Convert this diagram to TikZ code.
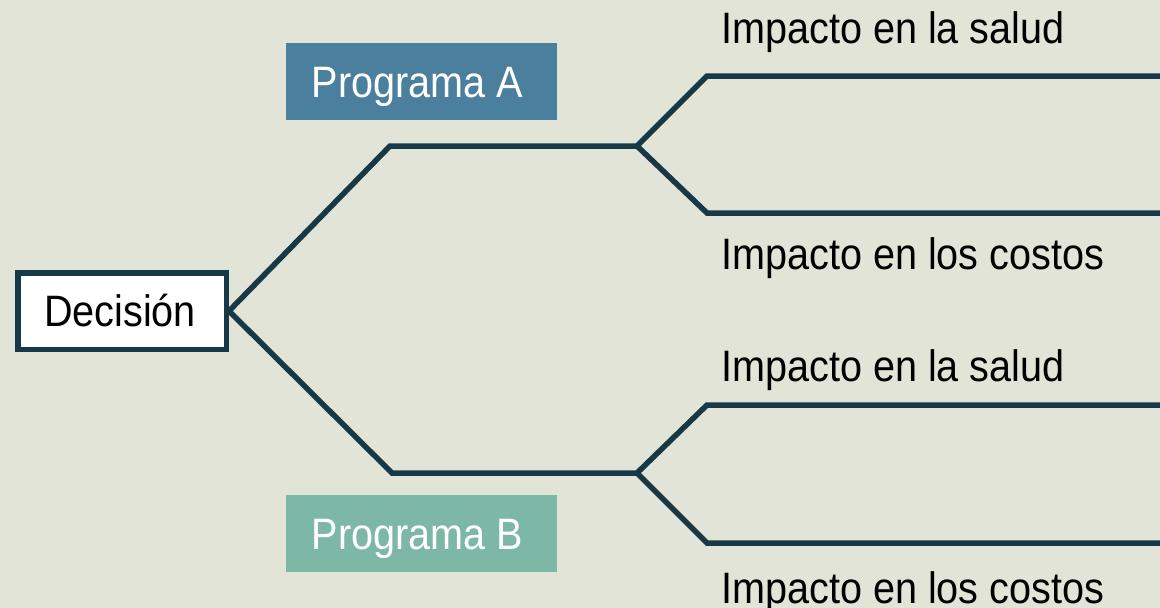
\documentclass[tikz,border=0pt]{standalone}
\usepackage{fontspec}
\setmainfont{Liberation Sans}[FakeStretch=0.9]
\definecolor{bgc}{RGB}{227,228,216}
\definecolor{linec}{RGB}{23,56,71}
\definecolor{progA}{RGB}{75,127,158}
\definecolor{progB}{RGB}{125,184,166}
\tikzset{
  branch/.style={draw=linec, line width=5.5pt, miter limit=10},
  progbox/.style={inner sep=0pt, minimum width=271pt, minimum height=77pt, text=white,
    font=\fontsize{44pt}{48pt}\selectfont, text height=31pt, text depth=0pt},
  impact/.style={anchor=base west, inner sep=0pt, font=\fontsize{44pt}{48pt}\selectfont, text=black},
  decbox/.style={draw=linec, line width=5.5pt, fill=white, inner sep=0pt,
    minimum width=208.5pt, minimum height=76.5pt,
    font=\fontsize{44pt}{48pt}\selectfont, text height=31pt, text depth=0pt}
}
\begin{document}
\begin{tikzpicture}[x=1pt,y=-1pt]
\useasboundingbox (0,0) rectangle (1160,608);
\fill[bgc] (0,0) rectangle (1160,608);

% nodes
\node[decbox] (dec) at (122,311) {\hspace*{-4pt}Decisión};
\node[progbox, fill=progA] (pa) at (421.5,81.5) {\hspace*{-8pt}Programa A};
\node[progbox, fill=progB] (pb) at (421.5,533.5) {\hspace*{-8pt}Programa B};

% coordinates
\coordinate (a1) at (390,146);
\coordinate (a2) at (637,146);
\coordinate (a3) at (707,76);
\coordinate (a4) at (1160,76);
\coordinate (a5) at (707,213);
\coordinate (a6) at (1160,213);
\coordinate (b1) at (392,473);
\coordinate (b2) at (637,473);
\coordinate (b3) at (707,405);
\coordinate (b4) at (1160,405);
\coordinate (b5) at (707,543);
\coordinate (b6) at (1160,543);

% connectors
\draw[branch] (dec.east) -- (a1) -- (a2) -- (a3) -- (a4);
\draw[branch] (a2) -- (a5) -- (a6);
\draw[branch] (dec.east) -- (b1) -- (b2) -- (b3) -- (b4);
\draw[branch] (b2) -- (b5) -- (b6);

% labels
\node[impact] (ls1) at (721,43) {Impacto en la salud};
\node[impact] (lc1) at (721,269) {Impacto en los costos};
\node[impact] (ls2) at (721,381) {Impacto en la salud};
\node[impact] (lc2) at (721,603) {Impacto en los costos};
\end{tikzpicture}
\end{document}
